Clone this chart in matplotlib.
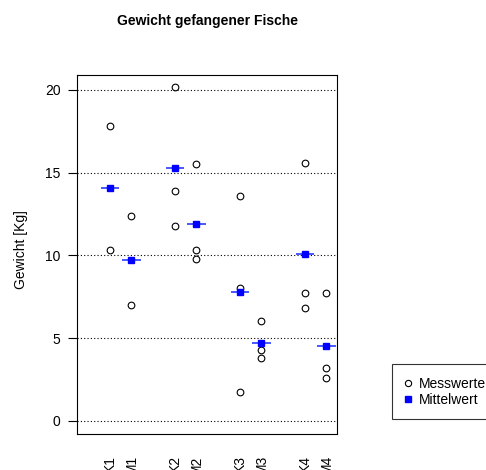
import numpy as np
import matplotlib
matplotlib.use("Agg")
import matplotlib.pyplot as plt
from matplotlib.lines import Line2D

plt.rcParams['font.family'] = ['Liberation Sans', 'DejaVu Sans']

# Fangdaten: je Probestelle gemessene Gewichte in kg
labels = ["K1", "M1", "K2", "M2", "K3", "M3", "K4", "M4"]
positions = [1, 2, 4, 5, 7, 8, 10, 11]
gewichte = [
    [17.8, 10.3],
    [12.4, 7.0],
    [20.15, 13.9, 11.75],
    [15.5, 10.3, 9.8],
    [13.6, 8.0, 1.75],
    [6.0, 4.25, 3.8],
    [15.6, 7.75, 6.8],
    [7.75, 3.2, 2.6],
]
yticks = [0, 5, 10, 15, 20]

fig = plt.figure(figsize=(4.86, 4.70), dpi=100)
ax = fig.add_axes([77.3 / 486, 1 - 434.3 / 470, 260 / 486, 359.3 / 470])

# Hilfslinien
for y in yticks:
    ax.axhline(y, color='black', lw=0.8, linestyle=(0, (1, 2)), zorder=1)

# Einzelwerte
for x, werte in zip(positions, gewichte):
    ax.plot([x] * len(werte), werte, linestyle='none', marker='o', ms=4.8,
            mfc='none', mec='black', mew=0.8, zorder=3)

# Mittelwerte mit kurzem Querstrich
mittel = [np.mean(w) for w in gewichte]
ax.hlines(mittel, np.array(positions) - 0.42, np.array(positions) + 0.42,
          color='#2a3cff', lw=1.2, zorder=4)
ax.plot(positions, mittel, linestyle='none', marker='s', ms=4.3,
        color='blue', zorder=5)

ax.set_xlim(-0.5, 11.5)
ax.set_ylim(-0.82, 20.9)
ax.set_yticks(yticks)
ax.set_yticklabels([str(t) for t in yticks], fontsize=10)
ax.tick_params(axis='y', length=6.5, width=0.8, pad=5.5)
ax.set_xticks(positions)
ax.set_xticklabels(labels, rotation=90, fontsize=10, va='top')
ax.tick_params(axis='x', length=0, pad=15)
for s in ax.spines.values():
    s.set_linewidth(0.8)

fig.text(207 / 486, 1 - 21.5 / 470, "Gewicht gefangener Fische",
         fontsize=10, fontweight='bold', ha='center', va='center')
fig.text(20.5 / 486, 1 - 250 / 470, "Gewicht [Kg]", fontsize=10,
         rotation=90, ha='center', va='center')

handles = [
    Line2D([], [], linestyle='none', marker='o', ms=4.5, mfc='none',
           mec='black', mew=0.8),
    Line2D([], [], linestyle='none', marker='s', ms=4.3, color='blue'),
]
leg = fig.legend(handles, ["Messwerte", "Mittelwert"], loc='upper left',
                 bbox_to_anchor=(392 / 486, 1 - 364.3 / 470), fontsize=10,
                 frameon=True, fancybox=False, borderpad=0.9,
                 handlelength=0.5, handletextpad=0.55, labelspacing=0.15,
                 borderaxespad=0)
leg.get_frame().set_edgecolor('black')
leg.get_frame().set_linewidth(0.8)

fig.savefig("out.png", dpi=100)
